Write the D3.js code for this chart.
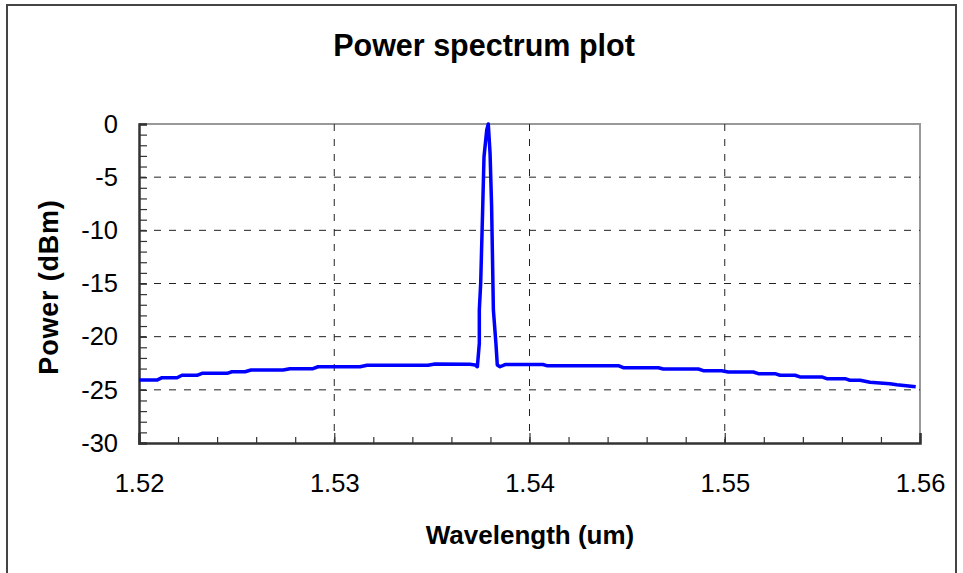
<!DOCTYPE html>
<html>
<head>
<meta charset="utf-8">
<script src="https://cdn.jsdelivr.net/npm/d3@7"></script>
<style>
  html, body { margin: 0; padding: 0; background: #fff; }
  svg { display: block; font-family: "Liberation Sans", Arial, Helvetica, sans-serif; }
</style>
</head>
<body>
<svg id="chart" width="963" height="573"></svg>
<script>
// Wavelength samples (um) and measured power (dBm)
const wavelength = [
  1.52000, 1.52092, 1.52118, 1.52195, 1.52220, 1.52297, 1.52323, 1.52451,
  1.52476, 1.52543, 1.52574, 1.52738, 1.52773, 1.52891, 1.52917, 1.53132,
  1.53168, 1.53480, 1.53516, 1.53695,
  1.53721, 1.53733, 1.53743, 1.53743, 1.53750, 1.53760, 1.53767, 1.53781,
  1.53789, 1.53798, 1.53806, 1.53815, 1.53828, 1.53835, 1.53849, 1.53875,
  1.54069, 1.54088, 1.54455, 1.54480, 1.54660, 1.54685, 1.54865, 1.54890,
  1.54984, 1.55018, 1.55146, 1.55172, 1.55257, 1.55283, 1.55360, 1.55385,
  1.55497, 1.55522, 1.55616, 1.55641, 1.55693, 1.55744, 1.55846, 1.55881,
  1.55978
];
const power = [
  -24.08, -24.08, -23.86, -23.86, -23.63, -23.63, -23.45, -23.45,
  -23.30, -23.30, -23.14, -23.14, -23.01, -23.01, -22.83, -22.83,
  -22.69, -22.69, -22.57, -22.60,
  -22.66, -22.83, -20.62, -17.49, -14.98, -8.09, -3.08, -0.56,
  0.00, -2.76, -7.78, -17.49, -20.62, -22.66, -22.83, -22.62,
  -22.62, -22.73, -22.73, -22.92, -22.92, -23.04, -23.04, -23.20,
  -23.20, -23.32, -23.32, -23.48, -23.48, -23.63, -23.63, -23.79,
  -23.79, -23.95, -23.95, -24.10, -24.10, -24.29, -24.42, -24.52,
  -24.71
];

// Axis ticks
const xMajorTicks = [1.52, 1.53, 1.54, 1.55, 1.56];
const xGridTicks = [1.53, 1.54, 1.55];
const yMajorTicks = [0, -5, -10, -15, -20, -25, -30];
const yGridTicks = [-5, -10, -15, -20, -25];

const svg = d3.select("#chart");
const plot = { left: 139, right: 920, top: 124, bottom: 443 };

const x = d3.scaleLinear().domain([1.52, 1.56]).range([plot.left, plot.right]);
const y = d3.scaleLinear().domain([-30, 0]).range([plot.bottom, plot.top]);

// Outer chart frame
svg.append("rect")
  .attr("x", 7).attr("y", 5).attr("width", 949).attr("height", 580)
  .attr("fill", "#fff").attr("stroke", "#444").attr("stroke-width", 2);

// Title
svg.append("text")
  .attr("x", 484).attr("y", 56)
  .attr("text-anchor", "middle")
  .attr("font-size", 30.5).attr("font-weight", "bold")
  .text("Power spectrum plot");

// Plot frame (top and right edges)
svg.append("path")
  .attr("d", `M${plot.left},${plot.top}H${plot.right}V${plot.bottom}`)
  .attr("fill", "none").attr("stroke", "#999").attr("stroke-width", 2);

// Dashed grid
const grid = svg.append("g").attr("stroke", "#222").attr("stroke-width", 1)
  .attr("stroke-dasharray", "7,8");
grid.selectAll("line.h").data(yGridTicks).join("line")
  .attr("class", "h")
  .attr("x1", plot.left).attr("x2", plot.right)
  .attr("y1", d => y(d)).attr("y2", d => y(d));
grid.selectAll("line.v").data(xGridTicks).join("line")
  .attr("class", "v")
  .attr("y1", plot.top).attr("y2", plot.bottom)
  .attr("x1", d => x(d)).attr("x2", d => x(d));

// Minor ticks
const xMinor = svg.append("g")
  .attr("transform", `translate(0,${plot.bottom})`)
  .call(d3.axisBottom(x).tickValues(d3.range(0, 21).map(i => 1.52 + i * 0.002))
    .tickSize(-6).tickFormat(""));
const yMinor = svg.append("g")
  .attr("transform", `translate(${plot.left},0)`)
  .call(d3.axisLeft(y).tickValues(d3.range(0, 31).map(i => -i))
    .tickSize(-8).tickFormat(""));
[xMinor, yMinor].forEach(g => {
  g.select(".domain").remove();
  g.selectAll("line").attr("stroke", "#333").attr("stroke-width", 1.2);
});

// Major axes with labels
const xAxis = svg.append("g")
  .attr("transform", `translate(0,${plot.bottom})`)
  .call(d3.axisBottom(x).tickValues(xMajorTicks).tickSize(-10).tickPadding(31)
    .tickFormat(d3.format(".2f")));
const yAxis = svg.append("g")
  .attr("transform", `translate(${plot.left},0)`)
  .call(d3.axisLeft(y).tickValues(yMajorTicks).tickSize(-8).tickPadding(21)
    .tickFormat(d => d === 0 ? "0" : d3.format("d")(d).replace("−", "-")));
[xAxis, yAxis].forEach(g => {
  g.select(".domain").attr("stroke", "#333").attr("stroke-width", 2.5);
  g.selectAll(".tick line").attr("stroke", "#333").attr("stroke-width", 1.2);
  g.selectAll(".tick text")
    .attr("fill", "#000")
    .attr("font-size", 25.5)
    .attr("font-family", "'Liberation Sans', Arial, sans-serif");
});

// Spectrum line
const points = wavelength.map((w, i) => [w, power[i]]);
svg.append("path")
  .datum(points)
  .attr("fill", "none")
  .attr("stroke", "#0000ff")
  .attr("stroke-width", 3.5)
  .attr("stroke-linejoin", "round")
  .attr("d", d3.line().x(d => x(d[0])).y(d => y(d[1])));

// Axis titles
svg.append("text")
  .attr("x", 530).attr("y", 544)
  .attr("text-anchor", "middle")
  .attr("font-size", 26).attr("font-weight", "bold")
  .text("Wavelength (um)");
svg.append("text")
  .attr("transform", "translate(58,287) rotate(-90)")
  .attr("text-anchor", "middle")
  .attr("font-size", 27).attr("font-weight", "bold")
  .attr("letter-spacing", 0.8)
  .text("Power (dBm)");
</script>
</body>
</html>
